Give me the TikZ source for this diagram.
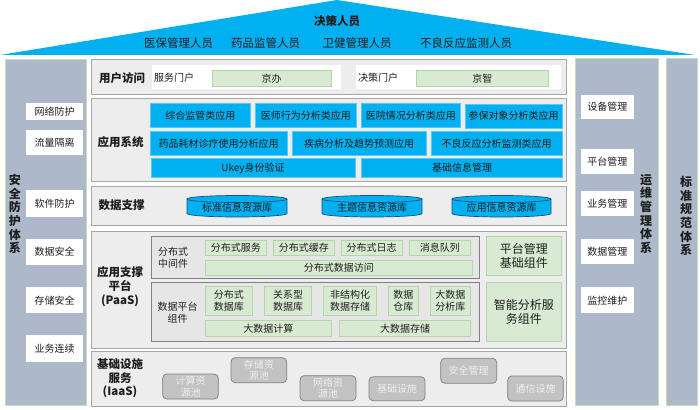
\documentclass[tikz,border=0pt]{standalone}
\usepackage{fontspec}
\setmainfont{Noto Sans CJK SC}
\newcommand{\myfs}[2]{\fontsize{#1}{#2}\selectfont}
\definecolor{txt}{HTML}{1E1E1E}
\definecolor{cy}{HTML}{00B0F0}
\definecolor{cyb}{HTML}{5BC8F2}
\definecolor{pnl}{HTML}{EDEDED}
\definecolor{pnl2}{HTML}{F5F5F5}
\definecolor{pnlb}{HTML}{A6A6A6}
\definecolor{gr}{HTML}{D8EAD2}
\definecolor{grb}{HTML}{B4D6A6}
\definecolor{sp}{HTML}{E6E6E6}
\definecolor{spb}{HTML}{808080}
\definecolor{ib}{HTML}{C2C2C2}
\definecolor{ibb}{HTML}{7F7F7F}
\definecolor{ibt}{HTML}{EFEFEF}
\definecolor{sd}{HTML}{ADB9CA}
\definecolor{sdb}{HTML}{C5E0B4}
\definecolor{cyl}{HTML}{1F4E79}
\newcommand{\bx}[7]{\node[#1, anchor=north west, minimum width={(#5-#3)*1pt}, minimum height={(#6-#4)*1pt}] (#2) at (#3,#4) {#7};}
\newcommand{\cyln}[5]{%
  \path[fill=cy, draw=cyl, line width=0.7pt] (#2,199) -- (#2,213.5) arc[start angle=180, end angle=0, x radius={(#3-#2)/2}, y radius=3.5] -- (#3,199) arc[start angle=0, end angle=-180, x radius={(#3-#2)/2}, y radius=3.5] -- cycle;
  \draw[draw=cyl, line width=0.7pt] (#2,199) arc[start angle=180, end angle=0, x radius={(#3-#2)/2}, y radius=3.5];
  \node[base] (#1) at ({(#2+#3)/2},#4) {#5};}
\begin{document}
\begin{tikzpicture}[x=1pt,y=-1pt,
  base/.style={inner sep=0pt, outer sep=0pt, text=txt, font=\myfs{10}{11.7}, align=center},
  panel/.style={base, draw=pnlb, fill=pnl, line width=0.8pt},
  wbox/.style={base, fill=white},
  cbox/.style={base, fill=cy, draw=cyb, line width=0.5pt},
  gbox/.style={base, fill=gr, draw=grb, line width=0.6pt},
  bigg/.style={gbox, font=\myfs{12}{13.7}},
  spanel/.style={base, fill=sp, draw=spb, line width=0.8pt},
  ibox/.style={base, fill=ib, draw=ibb, rounded corners=4pt, line width=0.7pt, text=ibt},
  side/.style={base, fill=sd, draw=sdb, line width=0.8pt},
  lbl/.style={base, font=\bfseries\myfs{11.5}{13.7}},
  vlbl/.style={base, font=\bfseries\myfs{12}{13.7}}]
\useasboundingbox (0,0) rectangle (700,409);
\fill[white] (0,0) rectangle (700,409);
% roof
\fill[cy] (0,55) -- (337,0) -- (695,55) -- cycle;
\node[lbl] (dec) at (337,20.7) {决策人员};
\node[base, font=\myfs{11.5}{13}] (p1) at (178.6,43.5) {医保管理人员};
\node[base, font=\myfs{11.5}{13}] (p2) at (265.7,43.5) {药品监管人员};
\node[base, font=\myfs{11.5}{13}] (p3) at (357,43.5) {卫健管理人员};
\node[base, font=\myfs{11.5}{13}] (p4) at (466,43.5) {不良反应监测人员};
% side columns
\bx{side}{lcol}{5}{59}{86}{405}{}
\bx{side}{rcol}{575}{58.5}{658.3}{405}{}
\bx{side}{scol}{666}{58.5}{697.5}{405}{}
\node[vlbl] (lt) at (15,214) {安\\全\\防\\护\\体\\系};
\node[vlbl] (rt) at (646,214) {运\\维\\管\\理\\体\\系};
\node[vlbl] (st) at (686,216) {标\\准\\规\\范\\体\\系};
\bx{wbox}{l1}{25.7}{103.3}{83.3}{120}{网络防护}
\bx{wbox}{l2}{25.7}{130}{83.3}{155.3}{流量隔离}
\bx{wbox}{l3}{25.7}{190}{83.3}{216.7}{软件防护}
\bx{wbox}{l4}{25.7}{239}{83.3}{265}{数据安全}
\bx{wbox}{l5}{25.7}{287.3}{83.3}{313.3}{存储安全}
\bx{wbox}{l6}{25.7}{335}{83.3}{361.7}{业务连续}
\bx{wbox}{r1}{580.7}{95}{634}{119.3}{设备管理}
\bx{wbox}{r2}{580.7}{149}{634}{174.3}{平台管理}
\bx{wbox}{r3}{580.7}{191}{634}{216}{业务管理}
\bx{wbox}{r4}{580.7}{239}{634}{264.3}{数据管理}
\bx{wbox}{r5}{580.7}{287.3}{634}{313.3}{监控维护}
% user access
\bx{panel}{ua}{91.7}{59.3}{566.7}{94}{}
\node[lbl] (ual) at (122,78) {用户访问};
\bx{wbox}{sp1}{152}{65}{340.6}{89.3}{}
\node[base, anchor=west] (fwmh) at (154,78) {服务门户};
\bx{gbox}{jb}{212}{70.7}{331}{86}{京办}
\bx{wbox}{sp2}{355.8}{65}{561}{89.3}{}
\node[base, anchor=west] (jcmh) at (358,78) {决策门户};
\bx{gbox}{jz}{416.5}{70.7}{548}{86}{京智}
% application system
\bx{panel}{app}{91.7}{98.3}{566.7}{181}{}
\node[lbl] (appl) at (120.5,141.7) {应用系统};
\bx{cbox}{a1}{150}{103.3}{250.7}{127.3}{综合监管类应用}
\bx{cbox}{a2}{255.7}{103.3}{356}{127.3}{医师行为分析类应用}
\bx{cbox}{a3}{361.7}{103.3}{460}{127.3}{医院情况分析类应用}
\bx{cbox}{a4}{465}{104}{562.3}{128}{参保对象分析类应用}
\bx{cbox}{a5}{150}{131.7}{287.3}{155}{药品耗材诊疗使用分析应用}
\bx{cbox}{a6}{292.3}{131.7}{426}{155}{疾病分析及趋势预测应用}
\bx{cbox}{a7}{431}{131.7}{562.3}{155}{不良反应分析监测类应用}
\bx{cbox}{a8}{151}{158.3}{355}{177.7}{Ukey身份验证}
\bx{cbox}{a9}{361.7}{158.3}{562.3}{177.7}{基础信息管理}
% data support
\bx{panel}{ds}{91.7}{186}{566.7}{225}{}
\node[lbl] (dsl) at (121.5,205) {数据支撑};
\cyln{c1}{187}{287}{208}{标准信息资源库}
\cyln{c2}{322}{422}{208}{主题信息资源库}
\cyln{c3}{452}{551}{208}{应用信息资源库}
% PaaS
\bx{panel}{paas}{91.7}{231.7}{566.7}{348.3}{}
\node[lbl] (paasl) at (120,286.5) {应用支撑\\平台\\(PaaS)};
\bx{spanel}{mw}{151.7}{236.7}{479.3}{278.3}{}
\node[base, anchor=west, align=left] (mwl) at (158,257.5) {分布式\\中间件};
\bx{gbox}{m1}{205}{240}{266.7}{255.7}{分布式服务}
\bx{gbox}{m2}{273.3}{240}{334.3}{255.7}{分布式缓存}
\bx{gbox}{m3}{341}{240}{402.3}{255.7}{分布式日志}
\bx{gbox}{m4}{409}{240}{470.7}{255.7}{消息队列}
\bx{gbox}{m5}{205}{260}{472.7}{275}{分布式数据访问}
\bx{spanel}{dp}{151.7}{282.3}{479.3}{341}{}
\node[base] (dpl) at (177.5,313) {数据平台\\组件};
\bx{gbox}{d1}{205}{286.7}{252.7}{315}{分布式\\数据库}
\bx{gbox}{d2}{264.3}{286.7}{311.7}{315}{关系型\\数据库}
\bx{gbox}{d3}{323.3}{286.7}{376.7}{315}{非结构化\\数据存储}
\bx{gbox}{d4}{388.3}{286.7}{418.3}{315}{数据\\仓库}
\bx{gbox}{d5}{430}{286.7}{470.7}{315}{大数据\\分析库}
\bx{gbox}{d6}{205}{320}{331.7}{336.7}{大数据计算}
\bx{gbox}{d7}{339.3}{320}{470.7}{336.7}{大数据存储}
\bx{bigg}{pm}{486}{236.7}{561.7}{275}{平台管理\\基础组件}
\bx{bigg}{ia}{486}{282.3}{561.7}{341.7}{智能分析服\\务组件}
% IaaS
\bx{panel}{iaas}{91.7}{351.7}{566.7}{406}{}
\node[lbl] (iaasl) at (120,378.3) {基础设施\\服务\\(IaaS)};
\bx{ibox}{i1}{162.7}{374}{218.3}{399}{计算资\\源池}
\bx{ibox}{i2}{231}{357.7}{286.7}{382.7}{存储资\\源池}
\bx{ibox}{i3}{300}{375.7}{356}{400.7}{网络资\\源池}
\bx{ibox}{i4}{369}{376.7}{425}{400.7}{基础设施}
\bx{ibox}{i5}{440.7}{358.3}{496.7}{383.3}{安全管理}
\bx{ibox}{i6}{507.7}{376}{563.3}{401}{通信设施}
\end{tikzpicture}
\end{document}
